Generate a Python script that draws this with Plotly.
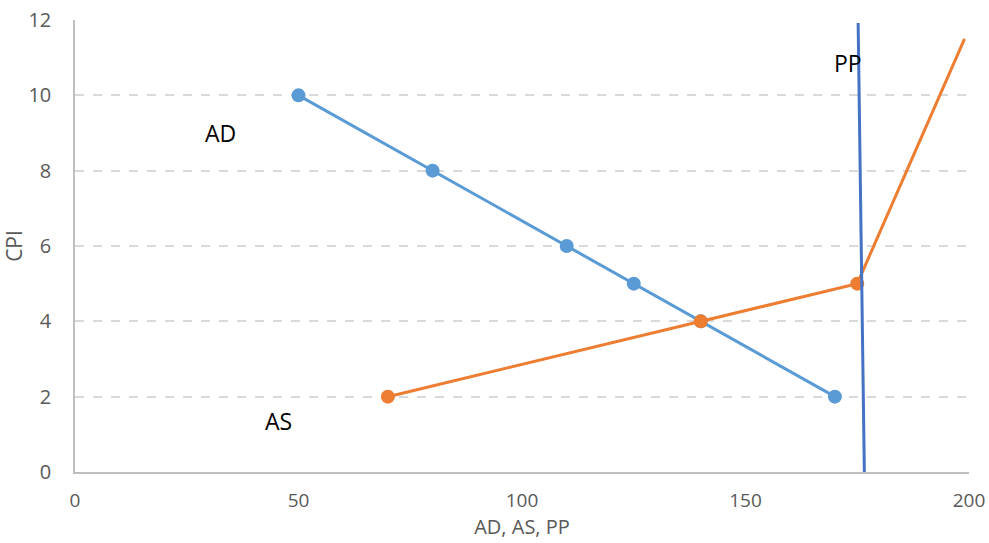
import plotly.graph_objects as go

ad_x = [50, 80, 110, 125, 140, 170]
ad_y = [10, 8, 6, 5, 4, 2]
as_x = [70, 140, 175, 199]
as_y = [2, 4, 5, 11.5]
as_marker = [14, 14, 14, 0]
pp_x = [175.2, 176.6]
pp_y = [11.92, -0.1]

labels = [("AD", 32.5, 9.0), ("AS", 45.5, 1.35), ("PP", 173, 10.85)]

FONT = "Open Sans, Liberation Sans, sans-serif"

fig = go.Figure()
fig.add_trace(go.Scatter(x=ad_x, y=ad_y, mode="lines+markers",
                         line=dict(color="#5B9BD5", width=3),
                         marker=dict(size=14, color="#5B9BD5", opacity=1, line=dict(width=0)),
                         cliponaxis=False))
fig.add_trace(go.Scatter(x=as_x, y=as_y, mode="lines+markers",
                         line=dict(color="#ED7D31", width=3),
                         marker=dict(size=as_marker, color="#ED7D31", opacity=1, line=dict(width=0)),
                         cliponaxis=False))
fig.add_trace(go.Scatter(x=pp_x, y=pp_y, mode="lines",
                         line=dict(color="#4472C4", width=3), cliponaxis=False))

for t, x, y in labels:
    fig.add_annotation(x=x, y=y, text=t, showarrow=False,
                       font=dict(size=23, color="#000000", family=FONT))

fig.update_layout(
    width=989, height=543, showlegend=False,
    margin=dict(l=75, r=20, t=20, b=71),
    plot_bgcolor="white", paper_bgcolor="white",
    font=dict(family=FONT, color="#595959", size=20),
    xaxis=dict(range=[0, 200], tickvals=[0, 50, 100, 150, 200], showgrid=False,
               showline=True, linecolor="#BFBFBF", linewidth=1.5, zeroline=False,
               ticks="", ticklabelstandoff=10, automargin=False,
               tickfont=dict(size=19, color="#595959"),
               title=dict(text="AD, AS, PP", font=dict(size=20, color="#595959"), standoff=6)),
    yaxis=dict(range=[0, 12], tickvals=[0, 2, 4, 6, 8, 10, 12], showgrid=True,
               gridcolor="#D9D9D9", griddash="dash", gridwidth=1.5,
               showline=True, linecolor="#BFBFBF", linewidth=1.5, zeroline=False,
               ticks="", ticklabelstandoff=18, automargin=False,
               tickfont=dict(size=20, color="#595959"),
               title=dict(text="CPI", font=dict(size=21, color="#595959"), standoff=5)),
)

fig.write_html("out.html")
